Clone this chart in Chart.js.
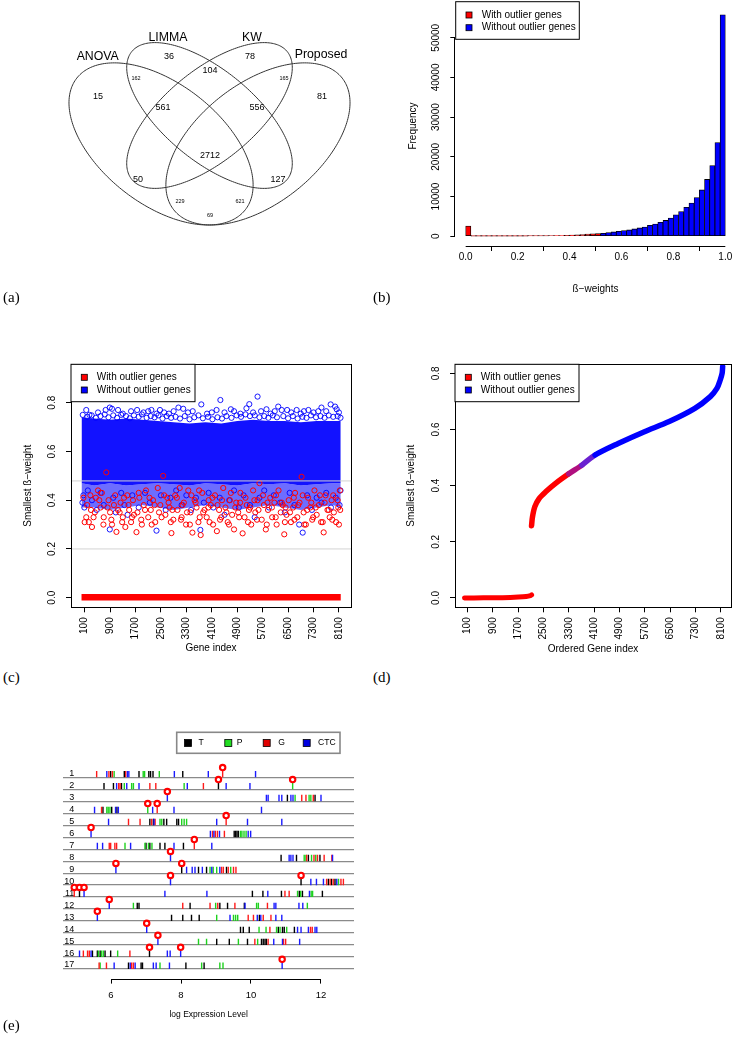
<!DOCTYPE html>
<html>
<head>
<meta charset="utf-8">
<script src="https://cdn.jsdelivr.net/npm/chart.js@4.4.1/dist/chart.umd.min.js"></script>
<style>
  html, body { margin: 0; padding: 0; background: #fff; }
  body { width: 738px; height: 1039px; position: relative; overflow: hidden; }
  .panel { position: absolute; }
  .tag { position: absolute; font-family: "Liberation Serif", "DejaVu Serif", serif; font-size: 15px; line-height: 18px; color: #000; }
</style>
</head>
<body>
<div class="panel" style="left:0;top:0;width:370px;height:290px"><canvas id="venn"></canvas></div>
<div class="panel" style="left:370px;top:0;width:368px;height:300px"><canvas id="hist"></canvas></div>
<div class="panel" style="left:0;top:320px;width:370px;height:340px"><canvas id="scat"></canvas></div>
<div class="panel" style="left:370px;top:320px;width:368px;height:340px"><canvas id="sorted"></canvas></div>
<div class="panel" style="left:0;top:700px;width:370px;height:339px"><canvas id="strip"></canvas></div>
<div class="tag" style="left:3px;top:288px">(a)</div>
<div class="tag" style="left:373px;top:288px">(b)</div>
<div class="tag" style="left:3px;top:668px">(c)</div>
<div class="tag" style="left:373px;top:668px">(d)</div>
<div class="tag" style="left:3px;top:1016px">(e)</div>
<script>
// ---- (a) Venn counts ----
const vennSets = ['ANOVA', 'LIMMA', 'KW', 'Proposed'];
const vennCounts = [15, 36, 78, 81, 162, 104, 165, 561, 2712, 556, 50, 127, 229, 621, 69];

// ---- (b) histogram of ß-weights ----
const histBins = [0.01, 0.03, 0.05, 0.07, 0.09, 0.11, 0.13, 0.15, 0.17, 0.19, 0.21, 0.23, 0.25, 0.27, 0.29,
  0.31, 0.33, 0.35, 0.37, 0.39, 0.41, 0.43, 0.45, 0.47, 0.49, 0.51, 0.53, 0.55, 0.57, 0.59, 0.61, 0.63,
  0.65, 0.67, 0.69, 0.71, 0.73, 0.75, 0.77, 0.79, 0.81, 0.83, 0.85, 0.87, 0.89, 0.91, 0.93, 0.95, 0.97, 0.99];
const histFreq = [2550, 5, 5, 6, 7, 8, 10, 12, 15, 18, 22, 28, 35, 45, 60,
  75, 95, 125, 165, 200, 250, 330, 410, 500, 580, 660, 740, 910, 1070, 1240, 1400, 1570,
  1820, 2070, 2310, 2730, 3060, 3470, 3970, 4550, 5370, 6200, 7270, 8350, 9750, 11650, 14300, 17800, 23600, 55800];
const outlierCut = 0.52;
const histTicksX = [0, 0.2, 0.4, 0.6, 0.8, 1.0];
const histTicksY = [0, 10000, 20000, 30000, 40000, 50000];
const legendLabels = ['With outlier genes', 'Without outlier genes'];

// ---- (c) smallest ß-weight per gene ----
const geneTicks = [100, 900, 1700, 2500, 3300, 4100, 4900, 5700, 6500, 7300, 8100];
const weightTicks = [0, 0.2, 0.4, 0.6, 0.8];
// dense part of the blue cloud, read as an envelope
const cBandX = [1, 400, 900, 1400, 1900, 2400, 2900, 3400, 3900, 4400, 4900, 5400, 5900, 6400, 6900, 7400, 7900, 8157];
const cBandTop = [0.74, 0.735, 0.73, 0.735, 0.73, 0.725, 0.72, 0.715, 0.72, 0.715, 0.725, 0.73, 0.725, 0.725, 0.72, 0.725, 0.725, 0.725];
const cBandMid = [0.47, 0.46, 0.47, 0.46, 0.465, 0.47, 0.465, 0.46, 0.47, 0.465, 0.46, 0.47, 0.465, 0.47, 0.46, 0.465, 0.47, 0.47];
const cBandLow = [0.37, 0.37, 0.36, 0.37, 0.38, 0.37, 0.36, 0.37, 0.38, 0.37, 0.36, 0.37, 0.38, 0.37, 0.36, 0.37, 0.38, 0.37];
const cBluePts = [
  [150,0.77],[250,0.75],[520,0.76],[760,0.77],[890,0.78],[960,0.775],[1150,0.77],[1300,0.755],[1560,0.765],
  [1750,0.77],[1950,0.76],[2100,0.765],[2200,0.77],[2360,0.755],[2470,0.77],[2600,0.76],[2750,0.755],
  [2900,0.765],[3050,0.78],[3200,0.775],[3350,0.76],[3500,0.765],[3770,0.793],[3950,0.755],[4100,0.76],
  [4250,0.77],[4370,0.811],[4500,0.76],[4700,0.773],[4800,0.765],[5000,0.755],[5190,0.777],[5280,0.794],
  [5400,0.76],[5540,0.825],[5650,0.765],[5820,0.773],[5950,0.755],[6080,0.765],[6190,0.784],[6300,0.77],
  [6470,0.77],[6600,0.76],[6770,0.77],[6900,0.755],[7000,0.765],[7140,0.77],[7300,0.76],[7450,0.765],
  [7550,0.78],[7700,0.765],[7840,0.793],[7980,0.784],[8030,0.773],[8100,0.76],
  [40,0.75],[180,0.742],[320,0.748],[450,0.738],[600,0.745],[730,0.752],[850,0.74],[1000,0.748],[1120,0.738],
  [1250,0.75],[1400,0.745],[1520,0.736],[1650,0.748],[1800,0.742],[1900,0.752],[2050,0.738],[2180,0.745],
  [2300,0.74],[2420,0.748],[2550,0.735],[2680,0.745],[2820,0.738],[2960,0.742],[3100,0.735],[3250,0.745],
  [3400,0.732],[3550,0.74],[3680,0.748],[3820,0.736],[3980,0.742],[4120,0.732],[4280,0.74],[4420,0.735],
  [4560,0.745],[4720,0.738],[4880,0.748],[5020,0.742],[5160,0.752],[5300,0.745],[5450,0.748],[5600,0.74],
  [5750,0.745],[5880,0.738],[6020,0.748],[6150,0.74],[6350,0.745],[6500,0.736],[6650,0.745],[6800,0.735],
  [6950,0.742],[7080,0.738],[7220,0.748],[7380,0.74],[7520,0.745],[7650,0.738],[7780,0.748],[7920,0.742],
  [8060,0.745],[8150,0.738],
  [30,0.39],[60,0.42],[90,0.37],[200,0.44],[330,0.40],[480,0.36],[600,0.43],[700,0.38],[890,0.28],
  [1000,0.41],[1080,0.35],[1250,0.43],[1350,0.38],[1450,0.34],[1600,0.42],[1800,0.37],[2000,0.43],
  [2150,0.39],[2360,0.275],[2500,0.42],[2650,0.36],[2800,0.41],[2980,0.44],[3150,0.38],[3300,0.42],
  [3450,0.36],[3600,0.41],[3740,0.278],[3850,0.39],[4000,0.43],[4150,0.37],[4350,0.41],[4500,0.34],
  [4650,0.40],[4800,0.44],[4950,0.37],[5100,0.42],[5300,0.38],[5450,0.33],[5600,0.41],[5750,0.44],
  [5900,0.37],[6050,0.42],[6250,0.39],[6400,0.35],[6550,0.43],[6700,0.38],[6850,0.30],[6960,0.267],
  [7100,0.42],[7250,0.36],[7400,0.41],[7550,0.39],[7700,0.43],[7850,0.37],[8000,0.41],[8120,0.38],[8150,0.44]
];
const cRedPts = [
  [150,0.33],[230,0.31],[300,0.36],[330,0.29],[450,0.41],[520,0.44],[600,0.37],[700,0.33],[780,0.514],
  [850,0.40],[900,0.35],[960,0.30],[1020,0.38],[1100,0.27],[1150,0.36],[1230,0.39],[1300,0.33],[1380,0.29],
  [1440,0.42],[1500,0.36],[1560,0.31],[1620,0.40],[1730,0.269],[1760,0.35],[1820,0.41],[1900,0.30],
  [1960,0.38],[2030,0.44],[2100,0.33],[2180,0.36],[2250,0.40],[2320,0.31],[2400,0.45],[2480,0.38],
  [2570,0.50],[2640,0.34],[2700,0.41],[2770,0.37],[2830,0.265],[2890,0.32],[2950,0.42],[3020,0.36],
  [3090,0.45],[3150,0.33],[3220,0.39],[3290,0.30],[3360,0.44],[3430,0.35],[3490,0.267],[3560,0.40],
  [3620,0.37],[3680,0.31],[3750,0.257],[3800,0.43],[3870,0.36],[3940,0.33],[4000,0.40],[4070,0.38],
  [4140,0.30],[4200,0.42],[4260,0.273],[4330,0.36],[4400,0.33],[4460,0.45],[4530,0.37],[4600,0.31],
  [4670,0.40],[4740,0.34],[4800,0.28],[4870,0.39],[4930,0.35],[5000,0.43],[5070,0.264],[5130,0.33],
  [5200,0.38],[5270,0.36],[5340,0.30],[5400,0.44],[5470,0.35],[5540,0.40],[5600,0.47],[5670,0.32],
  [5740,0.38],[5800,0.28],[5870,0.36],[5940,0.41],[6000,0.33],[6070,0.39],[6140,0.30],[6200,0.44],
  [6270,0.35],[6330,0.38],[6380,0.26],[6450,0.34],[6520,0.40],[6590,0.31],[6660,0.37],[6720,0.43],
  [6790,0.33],[6860,0.39],[6925,0.496],[6990,0.35],[7060,0.30],[7130,0.41],[7200,0.37],[7260,0.32],
  [7330,0.44],[7400,0.34],[7470,0.38],[7540,0.31],[7620,0.268],[7680,0.42],[7740,0.36],[7810,0.33],
  [7870,0.40],[7940,0.35],[8010,0.31],[8080,0.37],[8130,0.44],
  [60,0.41],[180,0.38],[280,0.42],[420,0.35],[560,0.40],[640,0.43],[820,0.37],[1060,0.42],[1200,0.35],
  [1340,0.41],[1480,0.38],[1650,0.34],[1800,0.43],[2000,0.36],[2140,0.41],[2300,0.38],[2440,0.35],
  [2600,0.42],[2740,0.39],[2860,0.36],[3000,0.41],[3180,0.38],[3320,0.35],[3460,0.42],[3590,0.39],
  [3700,0.44],[3830,0.35],[3990,0.37],[4120,0.41],[4280,0.38],[4420,0.40],[4560,0.35],[4700,0.43],
  [4840,0.37],[4990,0.39],[5160,0.41],[5310,0.37],[5440,0.40],[5570,0.36],[5710,0.42],[5850,0.39],
  [5990,0.37],[6120,0.42],[6300,0.39],[6420,0.37],[6560,0.35],[6680,0.41],[6820,0.38],[6960,0.42],
  [7100,0.36],[7230,0.39],[7370,0.37],[7500,0.42],[7650,0.39],[7780,0.36],[7920,0.42],[8060,0.40],[8140,0.36],
  [100,0.31],[380,0.33],[690,0.30],[940,0.32],[1280,0.31],[1590,0.33],[1880,0.32],[2210,0.30],[2520,0.33],
  [2810,0.31],[3130,0.32],[3410,0.30],[3720,0.33],[4030,0.31],[4360,0.32],[4640,0.30],[4960,0.33],
  [5240,0.31],[5520,0.32],[5830,0.30],[6110,0.33],[6400,0.31],[6700,0.32],[7010,0.30],[7290,0.33],
  [7590,0.31],[7890,0.32],[8100,0.30]
];
const cZeroRow = [[1, 0.002], [8157, 0.002]];
const cRefLines = [0.2, 0.479];

// ---- (d) ordered smallest ß-weight ----
const dLow = [[1,0.000],[600,0.0003],[1200,0.001],[1700,0.003],[1950,0.005],[2080,0.008],[2120,0.011]];
const dHigh = [[2118,0.257],[2149,0.289],[2222,0.325],[2357,0.354],[2565,0.378],[2878,0.408],[3294,0.442],
  [3710,0.473],[4126,0.509],[4854,0.550],[5686,0.592],[6467,0.628],[7278,0.675],[7767,0.717],[7975,0.746],
  [8079,0.776],[8140,0.80],[8157,0.824]];

// ---- (e) expression levels per gene row ----
const eRows = [1, 2, 3, 4, 5, 6, 7, 8, 9, 10, 11, 12, 13, 14, 15, 16, 17];
const eTypes = ['T', 'P', 'G', 'CTC'];
const eTicks = [6, 8, 10, 12];
const eT = [
  [5.99, 6.38, 6.80, 7.08, 7.13, 7.20, 8.05], [5.80, 6.07, 6.30], [11.04, 11.83], [5.77, 6.02, 6.17],
  [7.11, 7.21, 7.51, 7.59, 7.88, 7.93], [9.52, 9.56, 9.60, 9.64], [7.00, 7.11, 7.40, 7.54, 8.07],
  [10.86, 11.30, 11.64, 11.97], [8.50, 8.73, 9.30], [12.21, 12.30, 12.40], [10.04, 10.34, 10.87, 11.38, 11.47, 12.04],
  [6.75, 6.80, 8.26, 9.11, 9.33, 9.81], [7.73, 8.05, 8.30, 8.52, 10.24], [9.70, 9.78, 9.95, 10.78, 10.90, 10.95, 11.24],
  [9.02, 9.38, 9.90, 10.30, 10.35, 10.40, 10.44], [5.47, 5.61, 5.69, 5.83, 5.99], [6.50, 6.86, 6.90, 8.14, 8.66]
];
const eP = [
  [6.09, 6.92, 6.96, 7.38], [6.38, 6.59, 6.64, 8.09], [11.26, 11.66, 11.71], [5.88, 5.92, 5.97],
  [7.40, 7.45, 8.02, 8.09, 8.16], [9.70, 9.74, 9.80, 9.86], [6.40, 6.97, 7.07, 7.17], [11.52, 11.57, 11.73, 11.85],
  [8.83, 8.92, 9.02, 9.42], [12.50], [11.33, 11.42, 11.72, 11.76], [6.64, 8.99, 10.16, 10.21, 11.61],
  [9.02, 9.50, 9.56, 9.62], [10.23, 10.43, 10.73, 10.83, 11.02], [8.50, 8.73, 9.64, 10.19], [5.64, 5.73, 5.78, 6.19],
  [5.69, 7.40, 8.59, 9.11, 9.20]
];
const eG = [
  [5.59, 5.94, 6.04, 6.42], [6.22, 6.26, 7.11, 7.28, 8.64], [11.45, 11.57, 11.78], [5.73], [6.50, 6.83, 7.16, 7.26],
  [8.90, 8.98, 9.04, 9.24], [5.95, 5.99, 6.11, 6.16], [11.59, 11.80, 11.90, 12.09, 12.31], [9.16, 9.21, 9.35, 9.50, 9.57],
  [12.16, 12.26, 12.35, 12.57, 12.64], [10.97, 11.09], [8.05, 8.83, 9.05, 9.54, 10.47], [9.92, 10.07, 10.35, 10.57],
  [10.54, 11.70, 11.75], [10.11, 10.49, 10.93, 10.99], [5.21, 5.33, 5.38, 6.54], [5.66, 5.87, 6.59, 6.64]
];
const eC = [
  [5.88, 6.47, 6.51, 7.81, 8.78, 10.13], [6.16, 6.45, 6.80, 8.18, 9.29, 9.97], [10.44, 10.49, 10.80, 10.88, 11.14, 11.20, 12.00],
  [5.53, 6.13, 6.21, 7.19, 7.80, 10.30], [5.93, 7.23, 9.02, 9.90, 10.88], [8.84, 8.94, 9.10, 9.92, 9.99],
  [5.61, 5.76, 6.56, 7.80, 8.88], [11.09, 11.14, 11.20, 12.33], [8.16, 8.32, 8.40, 8.61, 8.88, 9.11],
  [11.71, 11.87, 12.07, 12.45], [7.54, 8.74, 10.48, 11.67], [9.83, 10.66, 10.71, 11.37, 11.48],
  [9.40, 10.18, 10.28, 10.71, 10.88], [11.33, 11.43, 11.64, 11.83, 11.88], [10.65, 10.90, 11.39],
  [5.10, 5.43, 7.61, 7.69], [6.09, 6.55, 6.69, 7.21, 7.29, 7.67]
];
const eMarked = [[1,9.19,'G'],[2,9.07,'T'],[2,11.19,'P'],[3,7.61,'CTC'],[4,7.05,'P'],[4,7.32,'G'],[5,9.29,'G'],
  [6,5.43,'CTC'],[7,8.38,'G'],[8,7.70,'CTC'],[9,6.14,'CTC'],[9,8.02,'T'],[10,7.70,'CTC'],[10,11.43,'T'],
  [11,4.95,'G'],[11,5.10,'T'],[11,5.23,'CTC'],[12,5.95,'CTC'],[13,5.61,'CTC'],[14,7.02,'CTC'],[15,7.34,'CTC'],
  [16,7.10,'T'],[16,7.99,'CTC'],[17,10.89,'CTC']];

// ---------------------------------------------------------------
const RED = '#ff0000', BLUE = '#0000ff';
const FONT = '"Liberation Sans", Arial, Helvetica, sans-serif';
Chart.defaults.font.family = FONT;
Chart.defaults.color = '#000';
Chart.defaults.animation = false;
Chart.defaults.responsive = true;
Chart.defaults.maintainAspectRatio = false;
Chart.defaults.plugins.legend.display = false;
Chart.defaults.plugins.tooltip.enabled = false;

// R-style extras: box, axis lines spanning first..last tick, legend box
const rPlot = {
  id: 'rplot',
  afterDatasetsDraw(chart, args, o) {
    const ctx = chart.ctx, a = chart.chartArea;
    ctx.save();
    ctx.strokeStyle = '#000';
    ctx.lineWidth = 1;
    if (o.box) {
      ctx.strokeRect(Math.round(a.left) + 0.5, Math.round(a.top) + 0.5,
        Math.round(a.right - a.left), Math.round(a.bottom - a.top));
    }
    (o.spans || []).forEach(id => {
      const s = chart.scales[id], t = s.ticks;
      const p0 = s.getPixelForValue(t[0].value), p1 = s.getPixelForValue(t[t.length - 1].value);
      ctx.beginPath();
      if (s.isHorizontal()) {
        const yy = Math.round(a.bottom) + 0.5;
        ctx.moveTo(p0, yy); ctx.lineTo(p1, yy);
      } else {
        const xx = Math.round(a.left) - 0.5;
        ctx.moveTo(xx, p0); ctx.lineTo(xx, p1);
      }
      ctx.stroke();
    });
    const L = o.legend;
    if (L) {
      ctx.fillStyle = '#fff';
      ctx.fillRect(L.x, L.y, L.w, L.h);
      ctx.strokeStyle = L.border || '#000';
      ctx.lineWidth = L.lw || 1;
      ctx.strokeRect(L.x, L.y, L.w, L.h);
      ctx.font = L.size + 'px ' + FONT;
      ctx.textBaseline = 'middle';
      ctx.textAlign = 'left';
      L.items.forEach(it => {
        ctx.fillStyle = it.color;
        ctx.fillRect(it.sx - L.sq / 2, it.sy - L.sq / 2, L.sq, L.sq);
        ctx.strokeStyle = '#000';
        ctx.lineWidth = 0.8;
        ctx.strokeRect(it.sx - L.sq / 2, it.sy - L.sq / 2, L.sq, L.sq);
        ctx.fillStyle = '#000';
        ctx.fillText(it.label, it.tx, it.sy);
      });
    }
    ctx.restore();
  }
};

function rScale(c) {
  return {
    type: 'linear', min: c.min, max: c.max, reverse: !!c.reverse,
    afterFit: s => { if (c.horiz) s.height = c.fit; else s.width = c.fit; },
    afterBuildTicks: s => { s.ticks = c.ticks.map(v => ({ value: v })); },
    grid: { drawOnChartArea: false, drawTicks: true, tickLength: c.tl || 5, color: '#000', lineWidth: 1 },
    border: { display: false },
    ticks: {
      autoSkip: false, callback: c.fmt, font: { size: c.size || 10 }, padding: c.pad || 0,
      minRotation: c.rot || 0, maxRotation: c.rot || 0, crossAlign: c.horiz ? 'near' : 'center'
    },
    title: c.title ? {
      display: true, text: c.title, font: { size: c.tsize || 10 },
      padding: c.horiz ? { top: 0, bottom: c.tpad } : { top: c.tpad, bottom: 0 }
    } : { display: false }
  };
}

// ---- (a) Venn ----
const vennEllipses = [
  { cx: 0.35, cy: 0.47, a: 0.35, b: 0.20, rot: 135 },
  { cx: 0.50, cy: 0.57, a: 0.33, b: 0.15, rot: 135 },
  { cx: 0.50, cy: 0.57, a: 0.33, b: 0.15, rot: 45 },
  { cx: 0.65, cy: 0.47, a: 0.35, b: 0.20, rot: 45 }
];
const vennSetPos = [[0.1539, 0.7767], [0.3715, 0.8442], [0.6316, 0.8442], [0.8452, 0.7827]];
const vennCountPos = [[0.1548, 0.6350, 9], [0.3746, 0.7757, 9], [0.6254, 0.7757, 9], [0.8483, 0.6350, 9],
  [0.2724, 0.7018, 5.5], [0.5015, 0.7264, 9], [0.7307, 0.7018, 5.5], [0.3560, 0.5963, 9], [0.5015, 0.4276, 9],
  [0.6471, 0.5963, 9], [0.2786, 0.3432, 9], [0.7121, 0.3432, 9], [0.4087, 0.2693, 5.5], [0.5944, 0.2693, 5.5],
  [0.5015, 0.2201, 5.5]];

const vennPlugin = {
  id: 'venn',
  afterDatasetsDraw(chart) {
    const { ctx, scales: { x, y } } = chart;
    ctx.save();
    ctx.strokeStyle = '#333';
    ctx.lineWidth = 1;
    vennEllipses.forEach(e => {
      const r = e.rot * Math.PI / 180;
      ctx.beginPath();
      for (let k = 0; k <= 240; k++) {
        const t = k / 240 * 2 * Math.PI;
        const ux = e.cx + e.a * Math.cos(t) * Math.cos(r) - e.b * Math.sin(t) * Math.sin(r);
        const uy = e.cy + e.a * Math.cos(t) * Math.sin(r) + e.b * Math.sin(t) * Math.cos(r);
        const px = x.getPixelForValue(ux), py = y.getPixelForValue(uy);
        if (k) ctx.lineTo(px, py); else ctx.moveTo(px, py);
      }
      ctx.stroke();
    });
    ctx.fillStyle = '#000';
    ctx.textAlign = 'center';
    ctx.textBaseline = 'middle';
    ctx.font = '12.3px ' + FONT;
    vennSets.forEach((s, i) => ctx.fillText(s, x.getPixelForValue(vennSetPos[i][0]), y.getPixelForValue(vennSetPos[i][1])));
    vennCounts.forEach((n, i) => {
      const p = vennCountPos[i];
      ctx.font = p[2] + 'px ' + FONT;
      ctx.fillText(String(n), x.getPixelForValue(p[0]), y.getPixelForValue(p[1]));
    });
    ctx.restore();
  }
};

new Chart(document.getElementById('venn'), {
  type: 'scatter',
  data: { datasets: [] },
  options: {
    layout: { padding: 0 },
    scales: {
      x: { type: 'linear', display: false, min: -0.1486, max: 0.9969 },
      y: { type: 'linear', display: false, min: -0.0436, max: 0.9761 }
    }
  },
  plugins: [vennPlugin]
});

// ---- (b) histogram ----
new Chart(document.getElementById('hist'), {
  type: 'bar',
  data: {
    datasets: [{
      data: histBins.map((b, i) => ({ x: b, y: histFreq[i] })),
      backgroundColor: histBins.map(b => b < outlierCut ? RED : BLUE),
      borderColor: '#000', borderWidth: 0.8, borderSkipped: false,
      barPercentage: 1, categoryPercentage: 1
    }]
  },
  options: {
    layout: { padding: { top: 2, right: 2.3, left: 0, bottom: 0 } },
    scales: {
      x: Object.assign(rScale({ horiz: true, min: -0.04, max: 1.04, ticks: histTicksX, fmt: v => v.toFixed(1),
        fit: 54, pad: 0, title: 'ß−weights', tpad: 4.7 }), { offset: false }),
      y: rScale({ min: -2479, max: 58007, ticks: histTicksY, fmt: v => String(v), fit: 85.3, rot: 90, pad: 0,
        title: 'Frequency', tpad: 37.3 })
    },
    plugins: {
      rplot: {
        spans: ['x', 'y'],
        legend: { x: 85.7, y: 1.7, w: 123.6, h: 37.6, sq: 6, size: 10,
          items: [{ label: legendLabels[0], color: RED, sx: 99, sy: 15, tx: 111.7 },
                  { label: legendLabels[1], color: BLUE, sx: 99, sy: 27.7, tx: 111.7 }] }
      }
    }
  },
  plugins: [rPlot]
});

// ---- (c) scatter ----
const pts = arr => arr.map(p => ({ x: p[0], y: p[1] }));
new Chart(document.getElementById('scat'), {
  type: 'scatter',
  data: {
    datasets: [
      { type: 'line', data: cBandX.map((x, i) => ({ x, y: cBandTop[i] })), fill: '+1', backgroundColor: '#1212ff',
        borderWidth: 0, pointRadius: 0, tension: 0, order: 10 },
      { type: 'line', data: cBandX.map((x, i) => ({ x, y: cBandMid[i] })), fill: '+1', backgroundColor: 'rgba(40,40,255,0.68)',
        borderWidth: 0, pointRadius: 0, tension: 0, order: 10 },
      { type: 'line', data: cBandX.map((x, i) => ({ x, y: cBandLow[i] })), fill: false,
        borderWidth: 0, pointRadius: 0, tension: 0, order: 10 },
      { data: pts(cBluePts), pointRadius: 2.6, pointBorderWidth: 0.9, pointBorderColor: BLUE,
        pointBackgroundColor: 'rgba(0,0,0,0)', order: 6 },
      { data: pts(cRedPts), pointRadius: 2.6, pointBorderWidth: 1, pointBorderColor: RED,
        pointBackgroundColor: 'rgba(0,0,0,0)', order: 5 },
      { type: 'line', data: pts(cZeroRow), borderColor: RED, borderWidth: 6.5, pointRadius: 0, order: 4 },
      ...cRefLines.map(v => ({ type: 'line', data: [{ x: -330, y: v }, { x: 8480, y: v }], borderColor: '#d3d3d3',
        borderWidth: 1, pointRadius: 0, order: 3 }))
    ]
  },
  options: {
    layout: { padding: { top: 44.3, right: 19, left: 0, bottom: 0 } },
    scales: {
      x: rScale({ horiz: true, min: -330, max: 8480, ticks: geneTicks, fmt: v => String(v), fit: 52.7, rot: 90,
        pad: 5, title: 'Gene index', tpad: 6 }),
      y: rScale({ min: -0.0394, max: 0.9575, ticks: weightTicks, fmt: v => v.toFixed(1), fit: 71, rot: 90, pad: 6.3,
        title: 'Smallest ß−weight', tpad: 22.3 })
    },
    plugins: {
      rplot: {
        box: true,
        legend: { x: 71, y: 44.3, w: 124, h: 37.4, sq: 6, size: 10,
          items: [{ label: legendLabels[0], color: RED, sx: 84.3, sy: 57.3, tx: 96.7 },
                  { label: legendLabels[1], color: BLUE, sx: 84.3, sy: 70, tx: 96.7 }] }
      }
    }
  },
  plugins: [rPlot]
});

// ---- (d) ordered ----
const dSegColor = c => {
  const x = c.p1.parsed.x;
  return x <= 3294 ? RED : x <= 3710 ? '#b0107f' : x <= 4126 ? '#6a20d0' : BLUE;
};
new Chart(document.getElementById('sorted'), {
  type: 'scatter',
  data: {
    datasets: [
      { type: 'line', data: pts(dLow), borderColor: RED, borderWidth: 5, pointRadius: 0, tension: 0.2,
        borderCapStyle: 'round', borderJoinStyle: 'round' },
      { type: 'line', data: pts(dHigh), borderColor: RED, borderWidth: 5.5, pointRadius: 0, tension: 0.3,
        borderCapStyle: 'round', borderJoinStyle: 'round', segment: { borderColor: dSegColor } }
    ]
  },
  options: {
    layout: { padding: { top: 44.3, right: 3.7, left: 0, bottom: 0 } },
    scales: {
      x: rScale({ horiz: true, min: -300, max: 8420, ticks: geneTicks, fmt: v => String(v), fit: 52.7, rot: 90,
        pad: 5, title: 'Ordered Gene index', tpad: 5 }),
      y: rScale({ min: -0.0333, max: 0.832, ticks: weightTicks, fmt: v => v.toFixed(1), fit: 85, rot: 90, pad: 6.3,
        title: 'Smallest ß−weight', tpad: 35.7 })
    },
    plugins: {
      rplot: {
        box: true,
        legend: { x: 85, y: 44.3, w: 124, h: 37.4, sq: 6, size: 10,
          items: [{ label: legendLabels[0], color: RED, sx: 98.3, sy: 57.3, tx: 110.7 },
                  { label: legendLabels[1], color: BLUE, sx: 98.3, sy: 70, tx: 110.7 }] }
      }
    }
  },
  plugins: [rPlot]
});

// ---- (e) strip plot ----
const eColor = { T: '#000000', P: '#1ed21e', G: '#ff1a1a', CTC: '#1a1aff' };
const rowPx = 11.98;               // pixel height of one row, used to lift marks above the baseline
const tickLift = 3.2 / rowPx, stemLift = 3.6 / rowPx, dotLift = 9.7 / rowPx;
const tickSet = (rows, col, order) => ({
  data: rows.flatMap((vals, r) => vals.map(v => ({ x: v, y: eRows[r] - tickLift }))),
  pointStyle: 'line', pointRotation: 90, pointRadius: 3.2, pointBorderWidth: 1.4, pointBorderColor: col, order
});
new Chart(document.getElementById('strip'), {
  type: 'scatter',
  data: {
    datasets: [
      { data: eMarked.map(m => ({ x: m[1], y: m[0] - dotLift })), pointStyle: 'circle', pointRadius: 2.7,
        pointBorderWidth: 2.1, pointBorderColor: RED, pointBackgroundColor: '#fff', order: 0 },
      { data: eMarked.map(m => ({ x: m[1], y: m[0] - stemLift })), pointStyle: 'line', pointRotation: 90,
        pointRadius: 3.6, pointBorderWidth: 1.4, pointBorderColor: c => eColor[eMarked[c.dataIndex][2]], order: 1 },
      tickSet(eT, eColor.T, 5), tickSet(eP, eColor.P, 4), tickSet(eG, eColor.G, 3), tickSet(eC, eColor.CTC, 2)
    ]
  },
  options: {
    layout: { padding: { top: 22.2, right: 16, left: 0, bottom: 0 } },
    scales: {
      x: rScale({ horiz: true, min: 4.637, max: 12.943, ticks: eTicks, fmt: v => String(v), fit: 59.7, tl: 4.3,
        pad: 6, size: 9.5, title: 'log Expression Level', tsize: 8.5, tpad: 18.9 }),
      y: {
        type: 'linear', reverse: true, min: -3.6, max: 17.86,
        afterFit: s => { s.width = 63.3; },
        afterBuildTicks: s => { s.ticks = eRows.map(v => ({ value: v })); },
        grid: { drawOnChartArea: true, drawTicks: false, color: '#8a8a8a', lineWidth: 1.3 },
        border: { display: false },
        ticks: { autoSkip: false, mirror: true, crossAlign: 'far', padding: 1, labelOffset: -4, font: { size: 9 },
          callback: (v, i) => String(eRows[i]) }
      }
    },
    plugins: {
      rplot: {
        spans: ['x'],
        legend: { x: 176.7, y: 32.3, w: 163.3, h: 21, sq: 7, size: 8.6, border: '#888', lw: 1.6,
          items: [{ label: eTypes[0], color: '#000', sx: 188, sy: 43, tx: 198.5 },
                  { label: eTypes[1], color: '#22dd22', sx: 228.3, sy: 43, tx: 236.8 },
                  { label: eTypes[2], color: '#e00000', sx: 266.7, sy: 43, tx: 278.3 },
                  { label: eTypes[3], color: '#0000e0', sx: 306.7, sy: 43, tx: 318 }] }
      }
    }
  },
  plugins: [rPlot]
});
</script>
</body>
</html>
